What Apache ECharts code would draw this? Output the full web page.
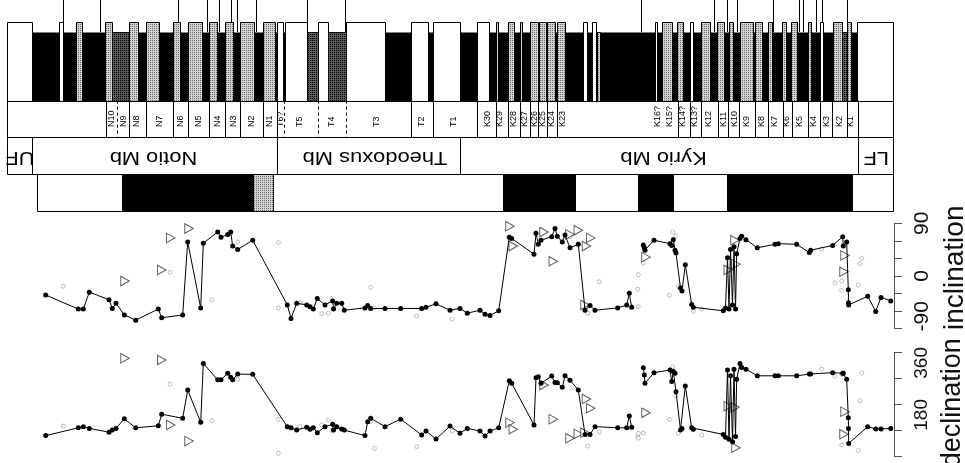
<!DOCTYPE html>
<html>
<head>
<meta charset="utf-8">
<script src="https://cdn.jsdelivr.net/npm/echarts/dist/echarts.min.js"></script>
<style>
  html, body { margin: 0; padding: 0; background: #fff; }
  #chart { width: 965px; height: 463px; }
</style>
</head>
<body>
<div id="chart"></div>
<script>
const FONT = '"Liberation Sans", Arial, Helvetica, sans-serif';

// ---------- lithological column (positions along the section) ----------
const whiteBeds = [[0,25.3],[52.3,55.7],[269.7,275.7],[278,300.3],[311.3,321.3],[339,378],[403.7,420.7],[425.7,453],[470.3,482],[576.3,580.3],[585.3,588.7],[648,650.3],[683,686.3],[813,815.7],[850.3,886]];
const stippledBeds = [[69,74.7],[98,105.3],[122,131.3],[138.7,152.3],[166.3,173.3],[180.7,194.7],[202.3,210.3],[218,226.3],[233,247],[255.7,268],[488.7,491.3],[500.7,507.3],[513,515],[523,531.3],[532,538.7],[540.3,548],[549.7,558],[654.7,664.7],[670.3,675.7],[693.7,703],[710.3,717],[722.3,726.3],[733,746.3],[748,754.7],[761.3,764.7],[774.7,778.7],[783.7,789.7],[801.3,803.7],[825.7,834.7],[839.7,843.7]];
const darkBeds = [[105.3,122],[300.3,311.3],[321.3,339],[834.7,839.7]];
const paleThinBeds = [[589.7,593]];
const mudInterval = [[25.3,850.3]];
const markerLevels = [55.7,93,171.3,199.7,212,223.7,229.7,249,300.3,338,633.7,707,720.3,729.7,765.7,792.3,795.7,809,815.3,839.7];

// ---------- units ----------
const unitNames = ['N10','N9','N8','N7','N6','N5','N4','N3','N2','N1','T6?','T5','T4','T3','T2','T1','K30','K29','K28','K27','K26','K25','K24','K23','K16?','K15?','K14?','K13?','K12','K11','K10','K9','K8','K7','K6','K5','K4','K3','K2','K1'];
const unitLabelPos = [104.7,117,129.7,153,174,191.3,210.3,226.3,244.7,262.3,273.7,293,324.7,369.7,414.7,446.3,480.3,493,506.3,518,527.3,535.7,544.7,555.7,651,663,675.7,688,702,716.3,728,739.7,754.7,768,779.7,793,806.3,819.7,832.3,843.7];
const unitBounds = [98.7,122,138.7,166,181,202,218,233,255.7,269.7,403.7,425.7,470.3,488.7,500.7,513,523,531.3,539.7,550.3,671.3,683,693.7,710.7,721.3,732.3,748,761.3,775.7,784.7,801.3,813,825.3,839.7,851.3];
const unitBoundsUncertain = [110,277.3,311,339];

// ---------- members ----------
const memberNames = ['UF','Notio Mb','Theodoxus Mb','Kyrio Mb','LF'];
const memberFrom = [0,25.3,270,453,851];
const memberTo = [25.3,270,453,851,886];
const memberLabelPos = [13,146.5,368,656.5,869.3];

// ---------- polarity zones ----------
const zoneFrom = [30,115,246,266,496,568,631,666,720,845];
const zoneTo = [115,246,266,496,568,631,666,720,845,886];
const zoneKind = ['R','N','?','R','N','R','N','R','N','R'];

// ---------- palaeomagnetic directions ----------
// accepted sample directions (null = gap in the record)
const samplePos = [38.7,71.3,76.3,82.3,102,105.3,109,117.3,128.7,151.3,154.7,175.7,180.7,193.7,196.3,210.7,214,220.7,223.7,225.7,230.7,245.7,280.3,284,289.7,299.7,303,306.3,310.3,318,325.7,326.5,329.7,334.7,337.3,358,360.7,363.7,378,393.7,414.7,419,429,443,453,460.3,473,478,483,491.7,502.3,504.7,527,529,531.3,534,544.7,548,550.3,555.3,558,563,571.3,578,583,588,610.7,619.7,622.3,624.7,630,636.3,637.3,638,647,663,664.7,666.3,668,669,673.5,675,678.3,684.7,686.3,716.3,718.5,720.5,722,723.5,725.5,727,728.5,729.7,733,734.7,739,750.3,768,771.3,789.7,802.3,803.7,825.7,835.7,836.3,839.7,841.3,841.5,841.7,860.7,868.7,874,883.7];
const sampleInc = [-33,-57,-57,-28,-41,-56,-47,-67,-76,-57,-72,-67,58,-55,56,75,66,71,75,51,45,61,-50,-73,-47,-50,-53,-57,-39,-50,-43,-57,-47,-47,-59,-55,-51,-56,-56,-56,-56,-54,-48,-59,-56,-64,-59,-66,-68,-60,66,64,37,73,54,61,67,81,68,58,70,48,54,-59,-51,-59,-55,-50,-30,-54,null,53,48,44,61,55,52,62,44,39,-21,-26,19,-49,-54,-60,-55,31,-57,45,-50,50,-57,38,64,68,62,48,54,55,54,40,44,52,67,51,58,-24,-46,-50,-35,-61,-37,-43];
const sampleDec = [163,190,194,188,175,182,188,221,190,197,237,223,321,209,413,356,356,379,365,356,376,375,194,190,182,192,185,190,173,194,202,182,194,186,182,163,211,223,194,220,165,179,151,196,171,188,179,162,179,190,353,344,200,363,367,344,369,347,346,330,370,355,321,167,167,194,190,190,231,192,null,398,373,344,381,390,350,385,379,315,182,188,335,190,185,167,157,390,150,370,142,393,160,358,413,399,393,370,370,370,370,376,376,381,379,379,358,225,188,136,194,186,186,188];

// rejected specimens
const rejPos = [56.3,163,204.7,230.7,271.3,271.3,293,314.7,321.3,324.7,363.7,367.3,409.7,445.3,563,580.7,592.3,630.7,631.3,631.3,636.3,662.3,665.7,668.7,671.3,686.3,694.7,814.7,828,834.7,834.7,851.3,853,854.7];
const rejInc = [-18,6,-41,58,57,-55,-46,-65,-64,-39,-20,-55,-69,-74,67,-64,-10,-23,2,-53,22,-33,75,68,-18,-61,-57,46,-12,-9,-25,-16,21,30];
const rejDec = [196,341,215,358,220,102,194,200,217,179,211,119,125,179,355,127,176,160,171,154,171,219,401,300,171,185,165,393,369,130,375,111,284,379];

// great-circle derived directions
const gcPos = [118,154.7,163.7,182,503,506.3,537,546.3,563,571.3,578,579.5,583.7,639,721.3,728,729,838,837];
const gcInc = [-9,10,65,81,85,51,75,25,71,78,-50,51,65,32,10,61,20,35,7];
const gcDec = [431,425,200,144,208,185,338,220,154,169,173,290,258,242,265,261,121,246,168];

// ---------- layout of the log panel (y units of the log grid) ----------
const TALL_TOP = 22, SHORT_TOP = 32, LOG_BASE = 100.7, UNIT_BASE = 137, MEMBER_BASE = 174, ZONE_BASE = 211;
const UNIT_LABEL_Y = 127, MEMBER_LABEL_Y = 157;

function stipple(bg, dot) {
  const c = document.createElement('canvas');
  c.width = 4; c.height = 4;
  const g = c.getContext('2d');
  g.fillStyle = bg; g.fillRect(0, 0, 4, 4);
  g.fillStyle = dot;
  g.fillRect(0, 0, 1, 1); g.fillRect(2, 2, 1, 1); g.fillRect(2, 0, 1, 1); g.fillRect(0, 2, 1, 1);
  return { image: c, repeat: 'repeat' };
}
const PALE = stipple('#d0d0d0', '#6e6e6e');
const DARK = stipple('#5a5a5a', '#000');

const crisp = v => Math.round(v) + 0.5;
function boxShape(api, x0, x1, y0, y1) {
  const a = api.coord([x0, y0]), b = api.coord([x1, y1]);
  const l = crisp(a[0]), r = crisp(b[0]), t = crisp(a[1]), bt = crisp(b[1]);
  return { x: l, y: t, width: r - l, height: bt - t };
}
function vline(api, x, y0, y1, dashed) {
  const a = api.coord([x, y0]), b = api.coord([x, y1]);
  const xx = crisp(a[0]);
  return { type: 'line', shape: { x1: xx, y1: a[1], x2: xx, y2: b[1] },
    style: { stroke: '#000', lineWidth: 1, lineDash: dashed ? [3, 3] : null } };
}

const beds = []
  .concat(whiteBeds.map(b => [b[0], b[1], 0]))
  .concat(stippledBeds.map(b => [b[0], b[1], 1]))
  .concat(darkBeds.map(b => [b[0], b[1], 2]))
  .concat(paleThinBeds.map(b => [b[0], b[1], 3]));

const logAxes = { xAxisIndex: 0, yAxisIndex: 0, coordinateSystem: 'cartesian2d', silent: true };

const series = [
  Object.assign({ type: 'custom', data: markerLevels.map(v => [v]), encode: { x: 0 },
    renderItem: (p, api) => vline(api, api.value(0), 0, SHORT_TOP, false) }, logAxes),
  Object.assign({ type: 'custom', data: mudInterval, encode: { x: [0, 1] },
    renderItem: (p, api) => ({ type: 'rect', shape: boxShape(api, api.value(0), api.value(1), SHORT_TOP, LOG_BASE),
      style: { fill: '#000' } }) }, logAxes),
  Object.assign({ type: 'custom', data: beds, encode: { x: [0, 1] },
    renderItem: (p, api) => {
      const k = api.value(2);
      const top = (k === 0 || k === 1) ? TALL_TOP : SHORT_TOP;
      const fill = k === 0 ? '#fff' : (k === 2 ? DARK : PALE);
      return { type: 'rect', shape: boxShape(api, api.value(0), api.value(1), top, LOG_BASE),
        style: { fill: fill, stroke: '#000', lineWidth: 1 } };
    } }, logAxes),
  // unit row
  Object.assign({ type: 'custom', data: [[0, 886]], encode: { x: [0, 1] },
    renderItem: (p, api) => ({ type: 'rect', shape: boxShape(api, api.value(0), api.value(1), LOG_BASE, UNIT_BASE),
      style: { fill: 'none', stroke: '#000', lineWidth: 1 } }) }, logAxes),
  Object.assign({ type: 'custom',
    data: unitBounds.map(v => [v, 0]).concat(unitBoundsUncertain.map(v => [v, 1])), encode: { x: 0 },
    renderItem: (p, api) => vline(api, api.value(0), LOG_BASE, UNIT_BASE, api.value(1) === 1) }, logAxes),
  Object.assign({ type: 'custom', data: unitLabelPos.map(v => [v]), encode: { x: 0 },
    renderItem: (p, api) => {
      const c = api.coord([api.value(0), UNIT_LABEL_Y]);
      return { type: 'text', x: c[0], y: c[1], rotation: Math.PI / 2,
        style: { text: unitNames[p.dataIndex], font: '9px ' + FONT, fill: '#000',
          align: 'left', verticalAlign: 'middle', textAlign: 'left', textVerticalAlign: 'middle' } };
    } }, logAxes),
  // member row
  Object.assign({ type: 'custom', data: memberFrom.map((f, i) => [f, memberTo[i], memberLabelPos[i]]), encode: { x: [0, 1] },
    renderItem: (p, api) => {
      const c = api.coord([api.value(2), MEMBER_LABEL_Y]);
      return { type: 'group', children: [
        { type: 'rect', shape: boxShape(api, api.value(0), api.value(1), UNIT_BASE, MEMBER_BASE),
          style: { fill: '#fff', stroke: '#000', lineWidth: 1 } },
        { type: 'text', x: c[0], y: c[1], rotation: Math.PI, scaleX: 1.25,
          style: { text: memberNames[p.dataIndex], font: '17.5px ' + FONT, fill: '#000',
            align: 'center', verticalAlign: 'middle', textAlign: 'center', textVerticalAlign: 'middle' } }
      ] };
    } }, logAxes),
  // polarity zones
  Object.assign({ type: 'custom', data: zoneFrom.map((f, i) => [f, zoneTo[i]]), encode: { x: [0, 1] },
    renderItem: (p, api) => {
      const k = zoneKind[p.dataIndex];
      return { type: 'rect', shape: boxShape(api, api.value(0), api.value(1), MEMBER_BASE, ZONE_BASE),
        style: { fill: k === 'N' ? '#000' : (k === 'R' ? '#fff' : PALE), stroke: '#000', lineWidth: 1 } };
    } }, logAxes)
];

function pairs(pos, vals) {
  return pos.map((x, i) => (vals[i] === null ? [x, '-'] : [x, vals[i]]));
}
const TRI = 'path://M0,0L10,5L0,10Z';
[[1, rejInc, gcInc, sampleInc], [2, rejDec, gcDec, sampleDec]].forEach(([g, rej, gc, main]) => {
  series.push({ type: 'scatter', xAxisIndex: g, yAxisIndex: g, data: pairs(rejPos, rej),
    symbol: 'circle', symbolSize: 4, silent: true,
    itemStyle: { color: '#fff', borderColor: '#9a9a9a', borderWidth: 0.8 } });
  series.push({ type: 'scatter', xAxisIndex: g, yAxisIndex: g, data: pairs(gcPos, gc),
    symbol: TRI, symbolSize: [8.5, 9.5], silent: true,
    itemStyle: { color: '#fff', borderColor: '#333', borderWidth: 1 } });
  series.push({ type: 'line', xAxisIndex: g, yAxisIndex: g, data: pairs(samplePos, main),
    symbol: 'circle', symbolSize: 5, showAllSymbol: true, connectNulls: false, silent: true,
    itemStyle: { color: '#000' }, lineStyle: { color: '#000', width: 1 } });
});

const axisCommon = {
  type: 'value', position: 'right', offset: 1,
  axisLine: { show: true, onZero: false, lineStyle: { color: '#555', width: 1 } },
  axisTick: { show: true, length: 8, lineStyle: { color: '#555', width: 1 } },
  splitLine: { show: false },
  nameLocation: 'middle', nameRotate: 90, nameGap: 33
};

const gridCommon = { left: 7, width: 886, containLabel: false, outerBoundsMode: 'none' };

const option = {
  animation: false,
  backgroundColor: '#fff',
  grid: [
    Object.assign({ top: 0, height: 211 }, gridCommon),
    Object.assign({ top: 223.3, height: 105 }, gridCommon),
    Object.assign({ top: 352.7, height: 104 }, gridCommon)
  ],
  xAxis: [0, 1, 2].map(g => ({ gridIndex: g, type: 'value', min: 0, max: 886, show: false })),
  yAxis: [
    { gridIndex: 0, type: 'value', min: 0, max: 211, inverse: true, show: false },
    Object.assign({}, axisCommon, {
      gridIndex: 1, min: -90, max: 90, interval: 30, name: 'inclination',
      nameTextStyle: { fontSize: 28, fontFamily: FONT, color: '#111', padding: [0, 0, 0, 16] },
      axisLabel: { rotate: 90, margin: 18, fontSize: 21, fontFamily: FONT, color: '#111',
        formatter: v => (v === -90 ? '{s|-90}' : (v === 0 || v === 90 ? '{c|' + v + '}' : '')),
        rich: { s: { fontSize: 21, fontFamily: FONT, color: '#111', padding: [0, 0, 0, 24] },
                c: { fontSize: 21, fontFamily: FONT, color: '#111' } } }
    }),
    Object.assign({}, axisCommon, {
      gridIndex: 2, min: 90, max: 450, interval: 90, name: 'declination',
      nameTextStyle: { fontSize: 27, fontFamily: FONT, color: '#111', padding: [0, 0, 0, 4] },
      axisLabel: { rotate: 90, margin: 18, align: 'left', fontSize: 19,
        fontFamily: '"Liberation Sans Narrow", ' + FONT, color: '#111',
        formatter: v => (v === 180 || v === 360 ? String(v) : '') }
    })
  ],
  series: series
};

echarts.init(document.getElementById('chart'), null, { renderer: 'canvas' }).setOption(option);
</script>
</body>
</html>
